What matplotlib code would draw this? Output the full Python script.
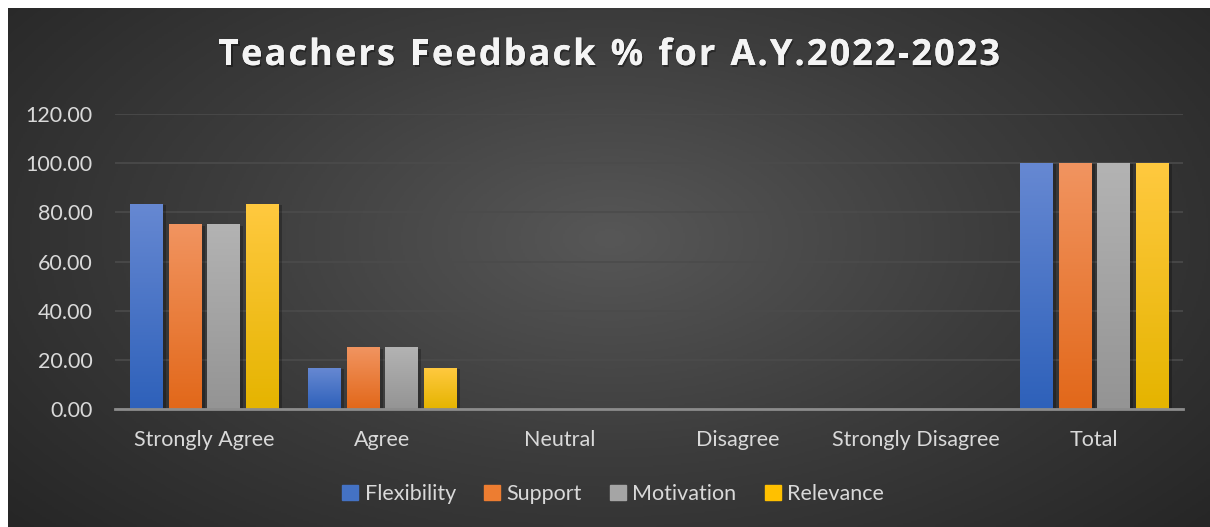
import numpy as np
import matplotlib
matplotlib.use("Agg")
import matplotlib.pyplot as plt
from matplotlib.colors import LinearSegmentedColormap
import matplotlib.patheffects as pe

categories = ["Strongly Agree", "Agree", "Neutral", "Disagree", "Strongly Disagree", "Total"]
series = ["Flexibility", "Support", "Motivation", "Relevance"]
flexibility = [83.33, 16.67, 0, 0, 0, 100]
support = [75.00, 25.00, 0, 0, 0, 100]
motivation = [75.00, 25.00, 0, 0, 0, 100]
relevance = [83.33, 16.67, 0, 0, 0, 100]
values = [flexibility, support, motivation, relevance]
yticks = [0, 20, 40, 60, 80, 100, 120]
title = "Teachers Feedback % for A.Y.2022-2023"

# top, bottom colours of each bar gradient
grads = [("#6688d2", "#2e61ba"), ("#f19460", "#e2681a"),
         ("#b3b3b3", "#949494"), ("#ffc93f", "#e5b400")]
legend_cols = ["#4472c4", "#ed7d31", "#a5a5a5", "#ffc000"]

W, H = 1210, 527
fig = plt.figure(figsize=(W / 100, H / 100), dpi=100)
fig.patch.set_facecolor("white")

# dark radial background
bg = fig.add_axes([8 / W, 0, (W - 8) / W, (H - 8) / H])
bg.set_axis_off()
yy, xx = np.mgrid[0:260, 0:600]
cx, cy = 300, 115
r = np.sqrt(((xx - cx) / 600) ** 2 + ((yy - cy) / 330) ** 2)
r = np.clip(r / 0.75, 0, 1)
bgmap = LinearSegmentedColormap.from_list("bg", ["#575757", "#3c3c3c", "#262626"])
bg.imshow(r, cmap=bgmap, aspect="auto", extent=[0, 1, 0, 1], origin="upper")
bg.set_xlim(0, 1)
bg.set_ylim(0, 1)

ax = fig.add_axes([115 / W, 1 - 409 / H, (1183 - 115) / W, (409 - 114) / H])
ax.patch.set_alpha(0)
n = len(categories)
x = np.arange(n)
bw = 0.18
step = 0.217
grad = np.linspace(0, 1, 100).reshape(-1, 1)
for i, vals in enumerate(values):
    cmap = LinearSegmentedColormap.from_list("g%d" % i, [grads[i][1], grads[i][0]])
    offs = (i - 1.5) * step
    for xi, v in zip(x, vals):
        if v <= 0:
            continue
        x0 = xi + offs - bw / 2
        # soft shadow
        ax.add_patch(plt.Rectangle((x0 + 0.012, 0), bw + 0.01, v - 0.4,
                                   color="black", alpha=0.25, zorder=2, lw=0))
        ax.imshow(grad, cmap=cmap, aspect="auto", origin="lower",
                  extent=[x0, x0 + bw, 0, v], zorder=3)

ax.set_xlim(-0.5, n - 0.5)
ax.set_ylim(0, 120)
ax.set_yticks(yticks)
ax.set_yticklabels(["%.2f" % t for t in yticks])
ax.set_xticks(x)
ax.set_xticklabels(categories)
ax.grid(axis="y", color="#4b4b4b", lw=1.2, zorder=0)
ax.set_axisbelow(True)
for s in ["top", "right", "left"]:
    ax.spines[s].set_visible(False)
ax.spines["bottom"].set_color("#8c8c8c")
ax.spines["bottom"].set_linewidth(2)
ax.spines["bottom"].set_zorder(5)
ax.tick_params(length=0, colors="#d9d9d9", labelsize=15.5)
ax.tick_params(axis="y", pad=16)
ax.tick_params(axis="x", pad=15)
for lab in ax.get_xticklabels() + ax.get_yticklabels():
    lab.set_fontfamily("Lato")

# title drawn letter by letter to get the wide character spacing
renderer = fig.canvas.get_renderer()
tprops = dict(color="#f4f4f4", fontsize=26, fontweight="bold", family="Open Sans",
              va="center", ha="left")
widths = []
for ch in title:
    t = fig.text(0, 0, ch if ch != " " else "a", **tprops)
    w = t.get_window_extent(renderer).width
    if ch == " ":
        w *= 0.5
    widths.append(w)
    t.remove()
left, right = 218, 1000
extra = (right - left - sum(widths)) / (len(title) - 1)
xpos = left
for ch, w in zip(title, widths):
    if ch != " ":
        fig.text(xpos / W, 1 - 56 / H, ch, **tprops,
                 path_effects=[pe.withSimplePatchShadow(offset=(1, -1.5), shadow_rgbFace="black", alpha=0.35),
                               pe.Normal()])
    xpos += w + extra

handles = [plt.Rectangle((0, 0), 1, 1, color=c) for c in legend_cols]
fig.legend(handles, series, loc="center", bbox_to_anchor=(613 / W, 1 - 494 / H),
           ncol=4, frameon=False, handlelength=0.75, handleheight=0.75,
           handletextpad=0.3, columnspacing=1.3,
           prop={"family": "Lato", "size": 15.5}, labelcolor="#d9d9d9")

fig.savefig("out.png", dpi=100, facecolor="white")
